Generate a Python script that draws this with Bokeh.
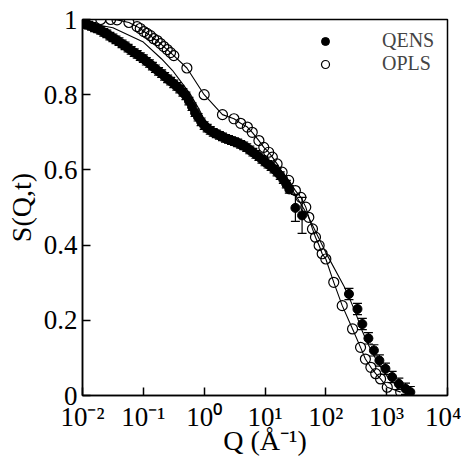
from bokeh.plotting import figure
from bokeh.models import (ColumnDataSource, Whisker, TeeHead, FixedTicker,
                          CustomJSTickFormatter, Legend, LegendItem)
from bokeh.embed import file_html
from bokeh.resources import INLINE

# ---------------- data ----------------
qens_q = [0.0100, 0.0112, 0.0126, 0.0141, 0.0158, 0.0178, 0.0200, 0.0224, 0.0251, 0.0282,
          0.0316, 0.0355, 0.0398, 0.0447, 0.0501, 0.0562, 0.0631, 0.0708, 0.0794, 0.0891,
          0.100, 0.112, 0.126, 0.141, 0.158, 0.178, 0.200, 0.224, 0.251, 0.282,
          0.316, 0.355, 0.398, 0.447, 0.501, 0.562, 0.631, 0.708, 0.794, 0.891,
          1.00, 1.12, 1.26, 1.41, 1.58, 1.78, 2.00, 2.24, 2.51, 2.82,
          3.16, 3.55, 3.98, 4.47, 5.01, 5.62, 6.31, 7.08, 7.94, 8.91,
          10.0, 11.2, 12.6, 14.1, 15.8, 17.8, 20.0, 22.4, 25.1, 31.6, 40.7,
          240, 331, 398, 501, 617, 759, 955, 1230, 1585, 2040, 2450]
qens_s = [0.990, 0.987, 0.985, 0.982, 0.978, 0.975, 0.971, 0.966, 0.962, 0.956,
          0.951, 0.946, 0.941, 0.935, 0.930, 0.924, 0.918, 0.912, 0.907, 0.901,
          0.896, 0.889, 0.883, 0.876, 0.869, 0.862, 0.856, 0.849, 0.842, 0.836,
          0.829, 0.822, 0.815, 0.806, 0.797, 0.783, 0.768, 0.752, 0.740, 0.728,
          0.718, 0.711, 0.705, 0.700, 0.696, 0.692, 0.688, 0.684, 0.681, 0.678,
          0.675, 0.672, 0.668, 0.664, 0.659, 0.653, 0.647, 0.641, 0.635, 0.628,
          0.621, 0.615, 0.609, 0.602, 0.594, 0.585, 0.574, 0.562, 0.548, 0.499, 0.479,
          0.270, 0.230, 0.190, 0.152, 0.120, 0.093, 0.071, 0.049, 0.031, 0.018, 0.009]
qens_err = [0.010] * 69 + [0.036, 0.048] + [0.015] * 11

opls_q = [0.020, 0.029, 0.037, 0.058, 0.079, 0.089, 0.102, 0.115, 0.131, 0.148,
          0.169, 0.191, 0.217, 0.247, 0.280, 0.317, 0.52, 1.00, 2.00, 3.09,
          3.98, 5.13, 6.17, 7.94, 9.55, 11.5, 13.2, 15.8, 19.1, 24.5,
          31.6, 38.9, 46.8, 52.5, 60.3, 67.6, 77.6, 87.1, 100, 135,
          186, 275, 372, 447, 550, 661, 794, 1023, 1700]
opls_s = [1.000, 1.000, 0.999, 0.992, 0.981, 0.976, 0.968, 0.963, 0.957, 0.949,
          0.944, 0.936, 0.928, 0.920, 0.912, 0.904, 0.871, 0.800, 0.747, 0.736,
          0.724, 0.714, 0.700, 0.678, 0.660, 0.647, 0.634, 0.616, 0.594, 0.572,
          0.545, 0.527, 0.501, 0.474, 0.443, 0.421, 0.399, 0.377, 0.363, 0.301,
          0.239, 0.177, 0.128, 0.097, 0.075, 0.058, 0.044, 0.022, 0.009]

fit_q = [0.01, 0.0316, 0.1, 0.2, 0.3, 0.4, 0.6, 0.8, 1.0, 1.5, 2.5, 4, 6, 10, 15, 20, 30,
         50, 100, 200, 250, 300, 400, 500, 700, 1000, 1500, 2500]
fit_s = [0.993, 0.978, 0.940, 0.895, 0.865, 0.838, 0.800, 0.765, 0.735, 0.705, 0.685,
         0.668, 0.652, 0.625, 0.600, 0.578, 0.540, 0.480, 0.380, 0.290, 0.255, 0.225,
         0.170, 0.135, 0.090, 0.052, 0.025, 0.008]

x_ticks = [1e-2, 1e-1, 1e0, 1e1, 1e2, 1e3, 1e4]
y_ticks = [0, 0.2, 0.4, 0.6, 0.8, 1.0]

FONT = "Liberation Serif"

p = figure(width=461, height=458, x_axis_type="log",
           x_range=(1e-2, 1e4), y_range=(0, 1),
           output_backend="svg", toolbar_location=None,
           min_border_left=82, min_border_right=14,
           min_border_top=19, min_border_bottom=63)
p.grid.visible = False
p.outline_line_color = "black"
p.outline_line_width = 1.5
p.background_fill_color = "white"
p.border_fill_color = "white"

qsrc = ColumnDataSource(dict(q=qens_q, s=qens_s,
                             up=[a + b for a, b in zip(qens_s, qens_err)],
                             lo=[a - b for a, b in zip(qens_s, qens_err)]))
osrc = ColumnDataSource(dict(q=opls_q, s=opls_s))
fsrc = ColumnDataSource(dict(q=fit_q, s=fit_s))

p.line("q", "s", source=fsrc, line_color="black", line_width=1.1)
p.line("q", "s", source=osrc, line_color="black", line_width=1.1)

wh = Whisker(base="q", upper="up", lower="lo", source=qsrc,
             line_color="black", line_width=1.2,
             upper_head=TeeHead(size=9, line_color="black", line_width=1.2),
             lower_head=TeeHead(size=9, line_color="black", line_width=1.2))
p.add_layout(wh)

r_q = p.scatter("q", "s", source=qsrc, size=9, marker="circle",
                fill_color="black", line_color="black")
r_o = p.scatter("q", "s", source=osrc, size=10, marker="circle",
                fill_color="white", fill_alpha=0.0, line_color="black", line_width=1.2)

# axes
xa = p.xaxis[0]
xa.ticker = FixedTicker(ticks=x_ticks, minor_ticks=[])
xa.formatter = CustomJSTickFormatter(code="""
const sup = {'-':'\u207b','0':'\u2070','1':'\u00b9','2':'\u00b2','3':'\u00b3','4':'\u2074'};
const e = Math.round(Math.log10(tick));
return '10' + String(e).split('').map(c => sup[c]).join('');
""")
ya = p.yaxis[0]
ya.ticker = FixedTicker(ticks=y_ticks, minor_ticks=[])
ya.formatter = CustomJSTickFormatter(code="""
if (Math.abs(tick) < 1e-9) return '0';
if (Math.abs(tick - 1) < 1e-9) return '1';
return tick.toFixed(1);
""")
for ax in (xa, ya):
    ax.major_tick_in = 8
    ax.major_tick_out = 0
    ax.minor_tick_in = 0
    ax.minor_tick_out = 0
    ax.axis_line_width = 1.5
    ax.major_tick_line_width = 1.5
    ax.major_label_text_font = FONT
    ax.major_label_text_font_size = "27px"
    ax.major_label_text_color = "black"
    ax.axis_label_text_font = FONT
    ax.axis_label_text_font_style = "normal"
    ax.axis_label_text_font_size = "28px"
    ax.axis_label_text_color = "black"
xa.major_label_standoff = 6
xa.axis_label = "Q (\u00c5\u207b\u00b9)"
xa.axis_label_standoff = -10
ya.major_label_standoff = 5
ya.axis_label = "S(Q,t)"
ya.axis_label_standoff = 4

legend = Legend(items=[LegendItem(label="QENS", renderers=[r_q]),
                       LegendItem(label="OPLS", renderers=[r_o])],
                location=(233, 320), border_line_color=None,
                background_fill_alpha=0, padding=0, margin=0, spacing=-1,
                glyph_width=20, glyph_height=20, label_standoff=47,
                label_text_font=FONT, label_text_font_size="20px")
p.add_layout(legend)

open("out.html", "w").write(file_html(p, INLINE))
